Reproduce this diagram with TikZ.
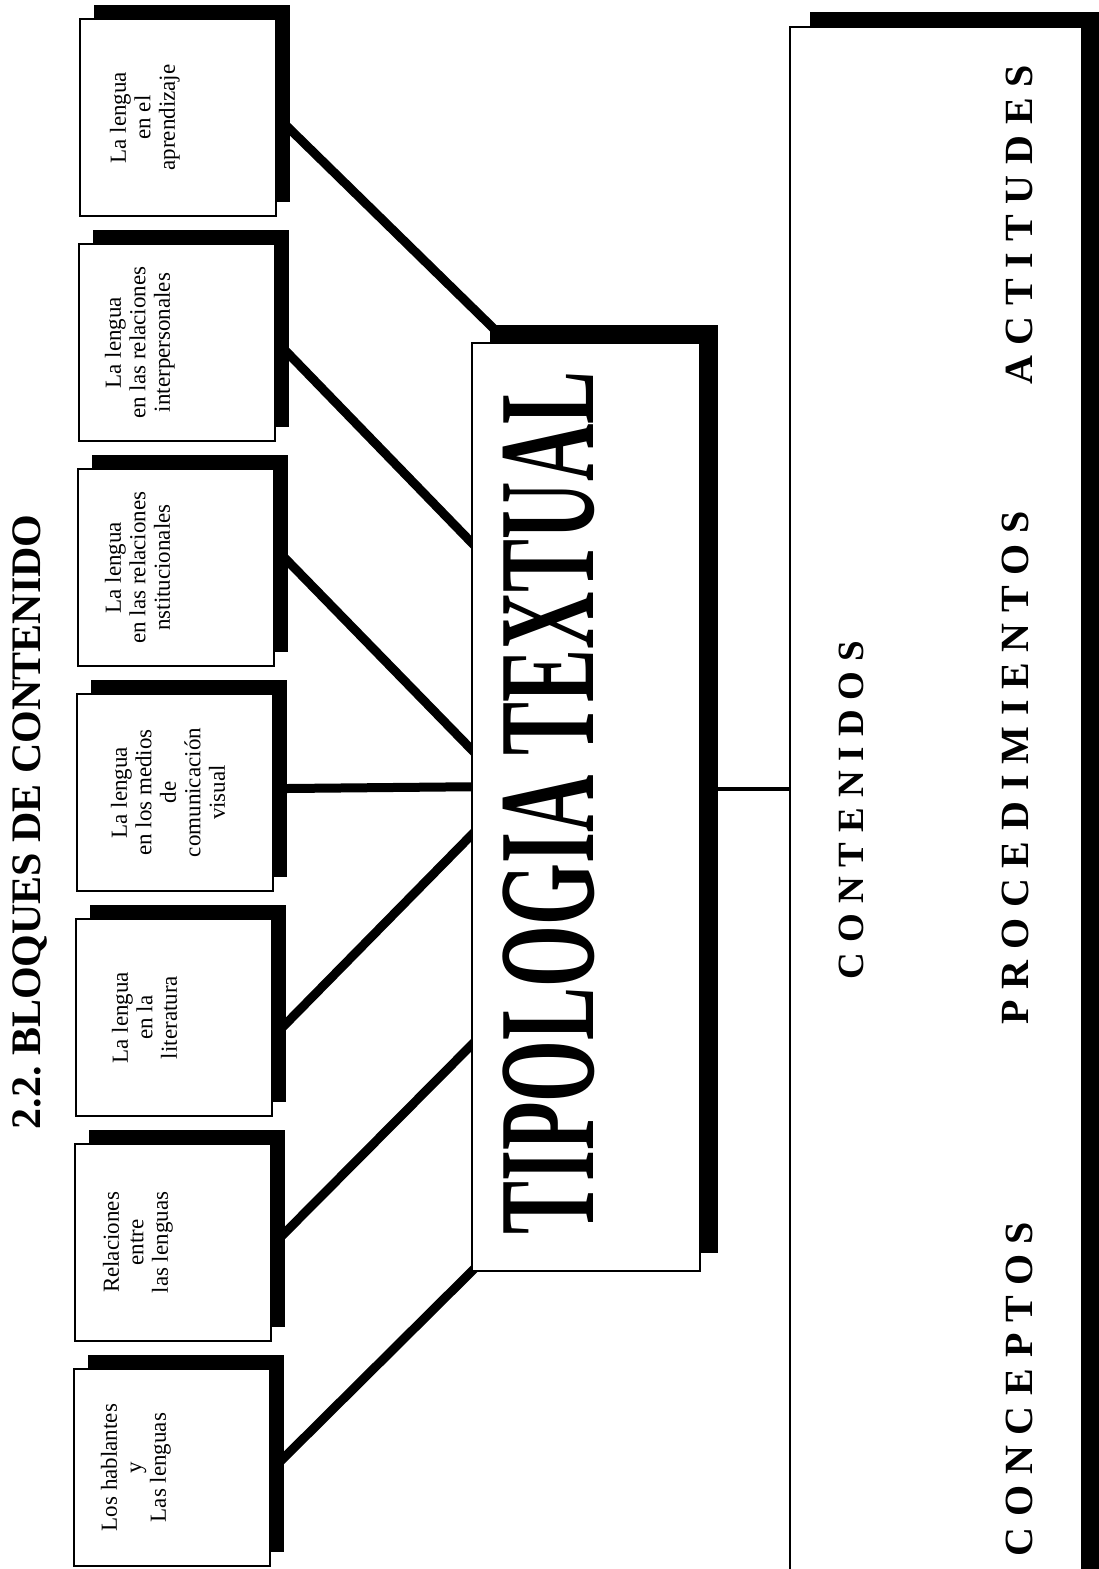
\documentclass[tikz,border=0pt]{standalone}
\usepackage{fontspec}
\setmainfont{Liberation Serif}
\newfontfamily\sperret[LetterSpace=27]{Liberation Serif}
\usepackage{graphicx}
\usetikzlibrary{calc,backgrounds}
\frenchspacing

\begin{document}
\begin{tikzpicture}[x=1pt,y=-1pt]
\tikzset{
    %Define style for the small boxes
    blokk/.style={
           rectangle,
           draw=black, line width=2.5pt,
           fill=white,
           minimum width=196pt,
           minimum height=197pt,
           inner sep=0pt},
    %Define style for the shadows
    skygge/.style={
           rectangle,
           fill=black, draw=none,
           minimum width=196pt,
           minimum height=197pt,
           inner sep=0pt},
    % Define line style
    strek/.style={
           line width=9pt,
           shorten <=-5pt,
           shorten >=-5pt},
    % Define text styles
    tekst/.style={
           rotate=90,
           anchor=north,
           inner sep=0pt,
           align=center,
           font=\fontsize{23}{24.5}\selectfont},
    ord/.style={
           rotate=90,
           anchor=base,
           inner sep=0pt,
           font=\fontsize{40}{40}\selectfont\sperret\bfseries}
}
	\useasboundingbox (0,0) rectangle (1099,1569);
	\clip (0,0) rectangle (1099,1569);

 %title
	\node[rotate=90,anchor=base,inner sep=0pt,font=\fontsize{42}{42}\selectfont\bfseries] (tittel) at (40,822) {2.2. BLOQUES DE CONTENIDO};

 %shadows
	\node[skygge] (b1s) at (192,103.5) {};
	\node[skygge] (b2s) at (191,328.5) {};
	\node[skygge] (b3s) at (190,553.5) {};
	\node[skygge] (b4s) at (189,778.5) {};
	\node[skygge] (b5s) at (188,1003.5) {};
	\node[skygge] (b6s) at (187,1228.5) {};
	\node[skygge] (b7s) at (186,1453.5) {};

 %boxes
	\node[blokk] (b1) at (178,117.5) {};
	\node[blokk] (b2) at (177,342.5) {};
	\node[blokk] (b3) at (176,567.5) {};
	\node[blokk] (b4) at (175,792.5) {};
	\node[blokk] (b5) at (174,1017.5) {};
	\node[blokk] (b6) at (173,1242.5) {};
	\node[blokk] (b7) at (172,1467.5) {};

	\node[tekst] (t1) at ($(b1.west)+(31,0)$) {La lengua\\en el\\aprendizaje};
	\node[tekst] (t2) at ($(b2.west)+(27,0)$) {La lengua\\en las relaciones\\interpersonales};
	\node[tekst] (t3) at ($(b3.west)+(28,0)$) {La lengua\\en las relaciones\\nstitucionales};
	\node[tekst] (t4) at ($(b4.west)+(35,0)$) {La lengua\\en los medios\\de\\comunicaci\'on\\visual};
	\node[tekst] (t5) at ($(b5.west)+(37,0)$) {La lengua\\en la\\literatura};
	\node[tekst] (t6) at ($(b6.west)+(29,0)$) {Relaciones\\entre\\las lenguas};
	\node[tekst] (t7) at ($(b7.west)+(28,0)$) {Los hablantes\\y\\Las lenguas};

 %central box
	\node[rectangle,fill=black,minimum width=228pt,minimum height=928pt,inner sep=0pt] (tts) at (604,789) {};
	\node[rectangle,draw=black,line width=2.5pt,fill=white,minimum width=228pt,minimum height=928pt,inner sep=0pt] (tt) at (586,807) {};
	\node[rotate=90,anchor=base,inner sep=0pt,font=\fontsize{137}{137}\selectfont\bfseries] (tttekst) at (593,803) {\scalebox{0.58}[1]{TIPOLOGIA TEXTUAL}};

 %big box
	\node[rectangle,fill=black,minimum width=292pt,minimum height=1583pt,inner sep=0pt] (stors) at (956,803.5) {};
	\node[rectangle,draw=black,line width=2.5pt,fill=white,minimum width=292pt,minimum height=1583pt,inner sep=0pt] (stor) at (936,818.5) {};
	\node[ord,font=\fontsize{37}{37}\selectfont\sperret\bfseries] (innhold) at (863,810) {CONTENIDOS};
	\node[ord] (prosedyre) at (1028,768) {PROCEDIMIENTOS};
	\node[ord] (begrep) at (1032,1389) {CONCEPTOS};
	\node[ord] (holdning) at (1032,225) {ACTITUDES};

 %connectors
	\begin{scope}[on background layer]
	\draw[strek] ($(b1s.east)+(0,26)$) -- (tts.north west);
	\draw[strek] ($(b2s.east)+(0,26)$) -- ($(tt.north west)+(0,200)$);
	\draw[strek] ($(b3s.east)+(0,8)$) -- ($(tt.north west)+(0,407)$);
	\draw[strek] ($(b4s.east)+(0,10)$) -- ($(tt.north west)+(0,445)$);
	\draw[strek] ($(b5s.east)+(0,20)$) -- ($(tt.north west)+(0,494)$);
	\draw[strek] ($(b6s.east)+(0,4)$) -- ($(tt.north west)+(0,704)$);
	\draw[strek] ($(b7s.east)+(0,4)$) -- (tt.south west);
	\draw[line width=4pt] (tts.east) -- (tts.east -| stor.west);
	\end{scope}

\end{tikzpicture}
\end{document}
